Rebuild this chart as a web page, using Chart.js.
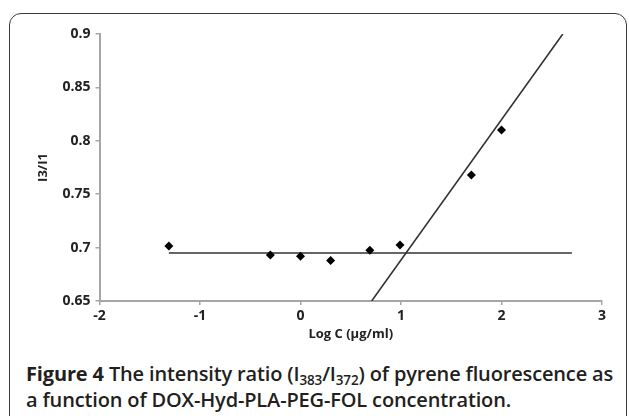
<!DOCTYPE html>
<html>
<head>
<meta charset="utf-8">
<script src="https://cdn.jsdelivr.net/npm/chart.js@4.4.0/dist/chart.umd.min.js"></script>
<style>
  html, body { margin: 0; padding: 0; background: #fff; width: 629px; height: 416px; overflow: hidden; }
  #frame {
    position: absolute; left: 9px; top: 13px; width: 616px; height: 430px;
    border: 1.5px solid #3a3a3a; border-radius: 12px;
  }
  #chart-wrap { position: absolute; left: 0; top: 0; width: 629px; height: 345px; }
  #caption {
    position: absolute; left: 26px; top: 361px; width: 600px;
    font-family: "Open Sans", sans-serif; font-size: 20px; line-height: 26px;
    font-weight: 600; color: #231f20; white-space: nowrap; letter-spacing: -0.15px;
  }
  #caption b { font-weight: 700; }
  #caption sub { font-size: 13.5px; vertical-align: -4px; line-height: 0; }
</style>
</head>
<body>
<div id="frame"></div>
<div id="chart-wrap"><canvas id="graph-canvas" width="629" height="345"></canvas></div>
<div id="caption"><b>Figure 4</b> The intensity ratio (I<sub>383</sub>/I<sub>372</sub>) of pyrene fluorescence as<br>a function of DOX-Hyd-PLA-PEG-FOL concentration.</div>
<script>
// measured points (log concentration vs I3/I1)
const logConc = [-1.31, -0.30, 0.0, 0.30, 0.69, 0.99, 1.70, 2.0];
const ratio = [0.7015, 0.693, 0.692, 0.688, 0.6975, 0.7025, 0.768, 0.810];

// fitted lines, two end points each
const flatX = [-1.31, 2.7];
const flatY = [0.695, 0.695];
const steepX = [0.708, 2.61];
const steepY = [0.65, 0.9];

const xTicks = [-2, -1, 0, 1, 2, 3];
const yTicks = [0.65, 0.7, 0.75, 0.8, 0.85, 0.9];

function pairs(xs, ys) {
  return xs.map((x, i) => ({x: x, y: ys[i]}));
}

const tickFont = {family: "Open Sans", size: 14, weight: 'bold'};
const titleFont = {family: "Open Sans", size: 13, weight: 'bold'};
const axisGray = '#a6a6a6';

const data = {
  datasets: [
    {
      type: 'scatter',
      label: 'I3/I1',
      data: pairs(logConc, ratio),
      pointStyle: 'rectRot',
      pointRadius: 4.5,
      backgroundColor: '#000',
      borderColor: '#000',
      borderWidth: 0,
      order: 0
    },
    {
      type: 'line',
      label: 'flat',
      data: pairs(flatX, flatY),
      borderColor: '#333',
      borderWidth: 1.6,
      pointRadius: 0,
      fill: false,
      order: 1
    },
    {
      type: 'line',
      label: 'steep',
      data: pairs(steepX, steepY),
      borderColor: '#333',
      borderWidth: 1.6,
      pointRadius: 0,
      fill: false,
      order: 1
    }
  ]
};

const config = {
  type: 'scatter',
  data: data,
  options: {
    responsive: false,
    animation: false,
    layout: {padding: {left: 0, right: 27, top: 34, bottom: 0}},
    plugins: {legend: {display: false}, tooltip: {enabled: false}},
    scales: {
      x: {
        type: 'linear',
        min: -2, max: 3,
        afterBuildTicks: (s) => { s.ticks = xTicks.map(v => ({value: v})); },
        afterFit: (s) => { s.height = 44; },
        grid: {drawOnChartArea: false, drawTicks: true, tickLength: 4, color: axisGray, lineWidth: 1.5},
        border: {color: axisGray, width: 2},
        ticks: {font: tickFont, color: '#222', padding: 3, maxRotation: 0},
        title: {display: true, text: 'Log C (µg/ml)', font: titleFont, color: '#222', padding: {top: 0, bottom: 3}}
      },
      y: {
        type: 'linear',
        min: 0.65, max: 0.9,
        afterBuildTicks: (s) => { s.ticks = yTicks.map(v => ({value: v})); },
        afterFit: (s) => { s.width = 99.5; },
        grid: {drawOnChartArea: false, drawTicks: true, tickLength: 4, color: axisGray, lineWidth: 1.5},
        border: {color: axisGray, width: 2},
        ticks: {font: tickFont, color: '#222', padding: 5, callback: (v) => String(+v.toFixed(2))},
        title: {display: true, text: 'I3/I1', font: titleFont, color: '#222', padding: {top: 35, bottom: 0}}
      }
    }
  }
};

new Chart(document.getElementById('graph-canvas'), config);
</script>
</body>
</html>
